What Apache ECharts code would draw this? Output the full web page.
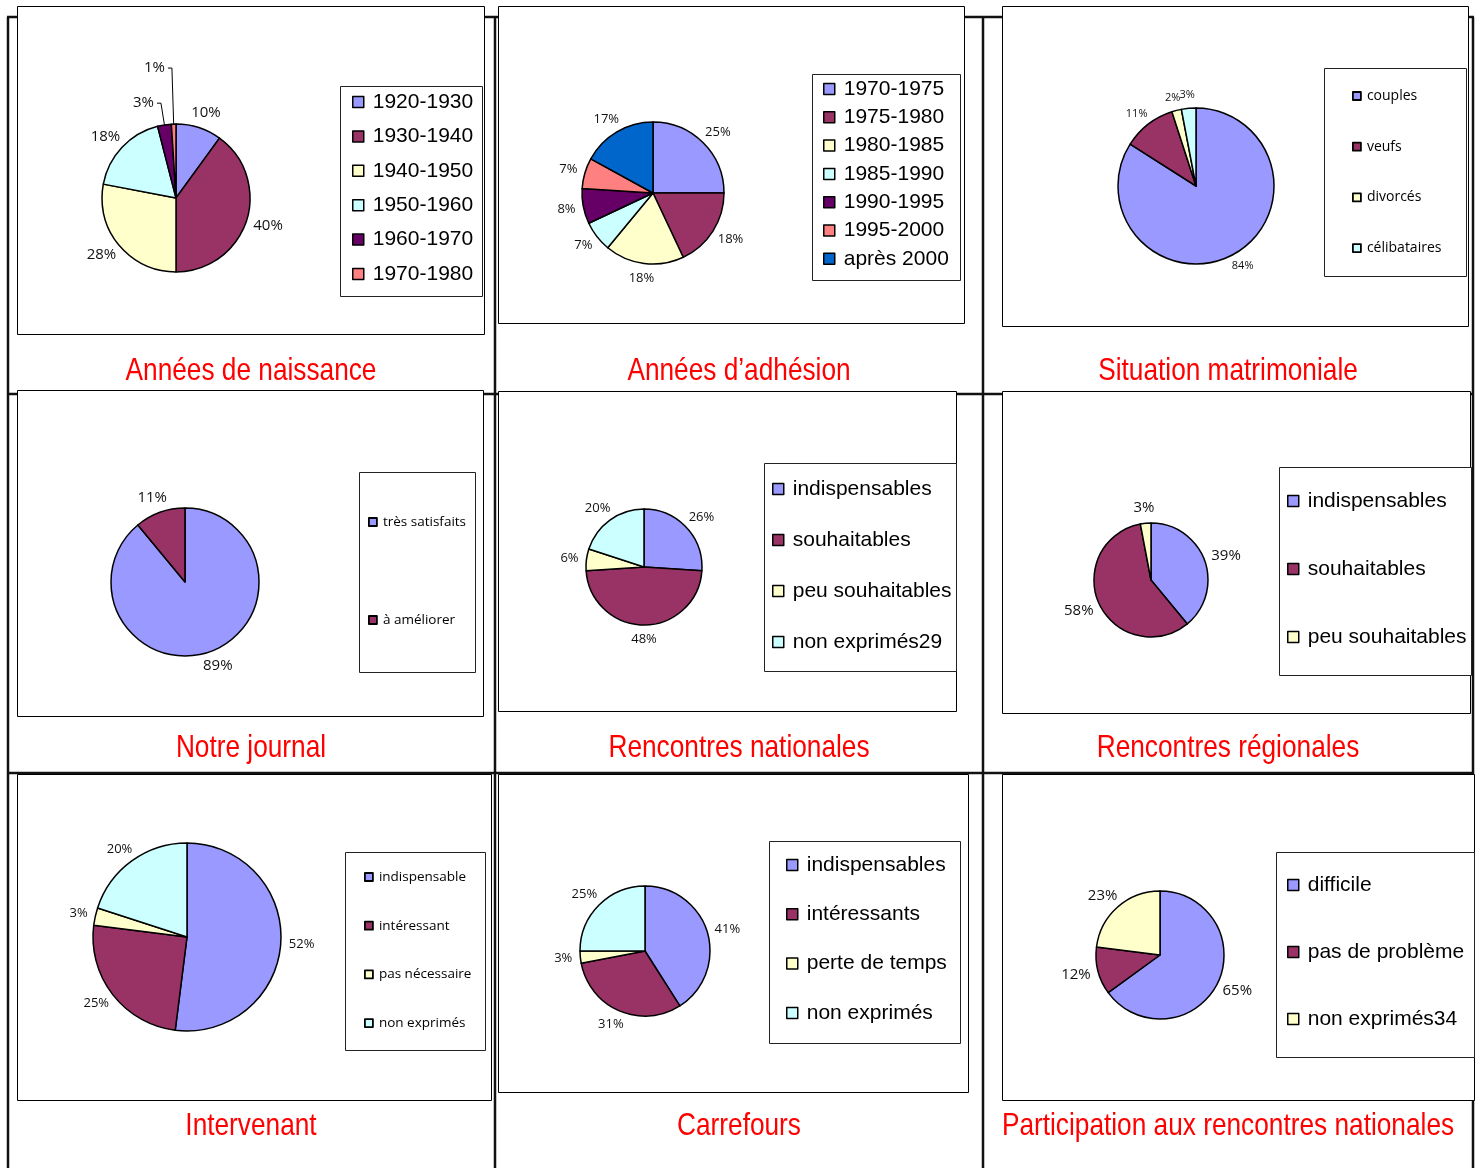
<!DOCTYPE html>
<html><head><meta charset="utf-8">
<script src="https://cdn.jsdelivr.net/npm/echarts@6/dist/echarts.min.js"></script>
<style>html,body{margin:0;padding:0;background:#fff}#c{width:1480px;height:1168px}</style>
</head><body><div id="c"></div>
<script>
// ---------- DATA ----------
const naissanceCats = ['1920-1930','1930-1940','1940-1950','1950-1960','1960-1970','1970-1980'];
const naissanceVals = [10,40,28,18,3,1];
const adhesionCats = ['1970-1975','1975-1980','1980-1985','1985-1990','1990-1995','1995-2000','après 2000'];
const adhesionVals = [25,18,18,7,8,7,17];
const matrimonialeCats = ['couples','veufs','divorcés','célibataires'];
const matrimonialeVals = [84,11,2,3];
const journalCats = ['très satisfaits','à améliorer'];
const journalVals = [89,11];
const nationalesCats = ['indispensables','souhaitables','peu souhaitables','non exprimés29'];
const nationalesVals = [26,48,6,20];
const regionalesCats = ['indispensables','souhaitables','peu souhaitables'];
const regionalesVals = [39,58,3];
const intervenantCats = ['indispensable','intéressant','pas nécessaire','non exprimés'];
const intervenantVals = [52,25,3,20];
const carrefoursCats = ['indispensables','intéressants','perte de temps','non exprimés'];
const carrefoursVals = [41,31,3,25];
const participationCats = ['difficile','pas de problème','non exprimés34'];
const participationVals = [65,12,23];
const panelTitles = ['Années de naissance','Années d\u2019adhésion','Situation matrimoniale',
  'Notre journal','Rencontres nationales','Rencontres régionales',
  'Intervenant','Carrefours','Participation aux rencontres nationales'];

// ---------- STYLE / LAYOUT ----------
const palette = ['#9999FF','#993366','#FFFFCC','#CCFFFF','#660066','#FF8080','#0066CC'];
const BIG = "'Liberation Sans', Arial, sans-serif";
const SMALL = "'Open Sans', 'DejaVu Sans', sans-serif";

const panels = [
  {cats:naissanceCats, vals:naissanceVals, tx:251, ty:371, box:[17,6,467,328], pie:[176,198,74], lf:15,
   leg:{x:352,y:102,sp:34.4,fs:21,big:true}, lbox:[340,86,142,210], leaders:{4:[22,4],5:[56,4]}},
  {cats:adhesionCats, vals:adhesionVals, tx:739, ty:371, box:[498,6,466,317], pie:[653,193,71], lf:13,
   leg:{x:823,y:89,sp:28.3,fs:21,big:true}, lbox:[812,74,148,206]},
  {cats:matrimonialeCats, vals:matrimonialeVals, tx:1228, ty:371, box:[1002,6,466,320], pie:[1196,186,78], lf:11,
   leg:{x:1352,y:96,sp:50.7,fs:14,big:false}, lbox:[1324,68,142,208]},
  {cats:journalCats, vals:journalVals, tx:251, ty:748, box:[17,390,466,326], pie:[185,582,74], lf:15,
   leg:{x:368,y:522,sp:98,fs:13.5,big:false}, lbox:[359,472,116,200]},
  {cats:nationalesCats, vals:nationalesVals, tx:739, ty:748, box:[498,391,458,320], pie:[644,567,58], lf:13,
   leg:{x:772,y:489,sp:51,fs:21,big:true}, lbox:[764,463,192,208]},
  {cats:regionalesCats, vals:regionalesVals, tx:1228, ty:748, box:[1002,391,468,322], pie:[1151,580,57], lf:15,
   leg:{x:1287,y:501,sp:68,fs:21,big:true}, lbox:[1279,467,192,208]},
  {cats:intervenantCats, vals:intervenantVals, tx:251, ty:1126, box:[17,774,474,326], pie:[187,937,94], lf:13,
   leg:{x:364,y:877,sp:48.7,fs:13.5,big:false}, lbox:[345,852,140,198]},
  {cats:carrefoursCats, vals:carrefoursVals, tx:739, ty:1126, box:[498,774,470,318], pie:[645,951,65], lf:13,
   leg:{x:786,y:865,sp:49.3,fs:21,big:true}, lbox:[769,841,191,202]},
  {cats:participationCats, vals:participationVals, tx:1228, ty:1126, box:[1002,774,472,326], pie:[1160,955,64], lf:15,
   leg:{x:1287,y:885,sp:67,fs:21,big:true}, lbox:[1276,852,198,205]}
];

function makeLabelLayout(leaders, gap) {
  return function (p) {
    if (leaders && leaders[p.dataIndex]) return {};
    const pts = p.labelLinePoints;
    if (!pts || pts.length < 2) return {};
    let dx = pts[1][0] - pts[0][0], dy = pts[1][1] - pts[0][1];
    const len = Math.hypot(dx, dy) || 1; dx /= len; dy /= len;
    const w = p.labelRect.width, h = p.labelRect.height;
    return { x: pts[0][0] + dx * gap + dx * w / 2, y: pts[0][1] + dy * gap + dy * h / 2,
             align: 'center', verticalAlign: 'middle' };
  };
}

const series = [], legends = [], graphics = [];

// table lines
const LW = 2.5, TC = '#111';
[[8,17,8,1168],[495,17,495,1168],[983,17,983,1168],[1473,17,1473,1168],
 [7,17,1474,17],[7,394,1474,394],[7,773,1474,773]].forEach(l => {
  graphics.push({type:'line', z:-20, shape:{x1:l[0],y1:l[1],x2:l[2],y2:l[3]}, style:{stroke:TC, lineWidth:LW}});
});

panels.forEach((pn, i) => {
  const b = pn.box;
  graphics.push({type:'rect', z:-10, shape:{x:b[0]+0.5, y:b[1]+0.5, width:b[2], height:b[3]},
    style:{fill:'#fff', stroke:'#000', lineWidth:1}});
  const lb = pn.lbox;
  graphics.push({type:'rect', z:-5, shape:{x:lb[0]+0.5, y:lb[1]+0.5, width:lb[2], height:lb[3]},
    style:{fill:'#fff', stroke:'#222', lineWidth:1}});

  // red panel title (narrow look through horizontal scaling)
  graphics.push({type:'text', z:10, x: pn.tx, y: pn.ty, scaleX: 0.82,
    style:{text: panelTitles[i], fill:'#FF0000', fontSize:32, fontFamily:BIG,
      align:'center', verticalAlign:'middle'}});

  const data = pn.cats.map((name, k) => {
    const d = {name: name, value: pn.vals[k], itemStyle:{color: palette[k]}};
    if (pn.leaders && pn.leaders[k]) {
      d.labelLine = {show:true, length: pn.leaders[k][0], length2: pn.leaders[k][1],
        lineStyle:{opacity:1, color:'#000', width:1}};
      d.label = {distanceToLabelLine: 3};
    }
    return d;
  });

  series.push({
    type:'pie', center:[pn.pie[0], pn.pie[1]], radius: pn.pie[2], startAngle:90, clockwise:true,
    avoidLabelOverlap:false, animation:false, silent:true,
    emphasis:{disabled:true},
    itemStyle:{borderColor:'#000', borderWidth:1.5},
    label:{show:true, position:'outside', formatter:'{c}%', fontFamily:SMALL, fontSize:pn.lf, color:'#111'},
    labelLine:{show:true, length:8, length2:0, lineStyle:{opacity:0}},
    labelLayout: makeLabelLayout(pn.leaders, 8),
    data: data
  });

  const lg = pn.leg;
  const lh = lg.big ? 24 : 18;
  const isz = lg.big ? 11 : 8;
  legends.push({
    data: pn.cats, orient:'vertical', left: lg.x, top: lg.y - lh / 2, padding:0,
    itemGap: lg.sp - lh, itemWidth: isz, itemHeight: isz, icon:'rect', selectedMode:false,
    itemStyle:{borderColor:'#000', borderWidth: lg.big ? 1.5 : 1.8},
    textStyle:{fontFamily: lg.big ? BIG : SMALL, fontSize: lg.fs, color:'#000', lineHeight: lh,
      padding:[0,0,0, lg.big ? 4 : 1]}
  });
});

const chart = echarts.init(document.getElementById('c'), null, {renderer:'canvas'});
chart.setOption({
  animation:false,
  backgroundColor:'#fff',
  legend: legends,
  graphic: {elements: graphics},
  series: series
});
</script>
</body></html>
